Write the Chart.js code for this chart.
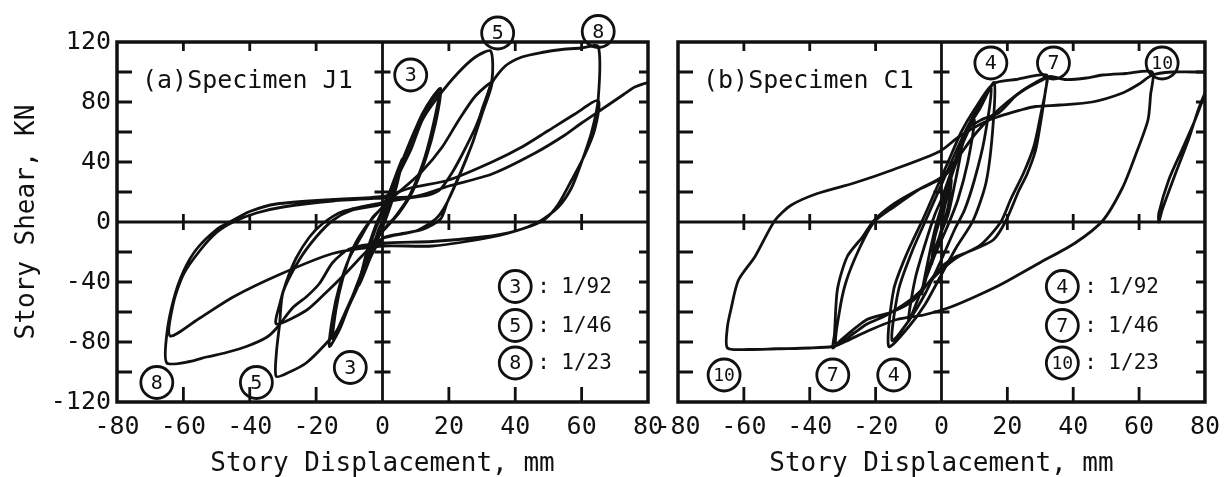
<!DOCTYPE html>
<html>
<head>
<meta charset="utf-8">
<script src="https://cdn.jsdelivr.net/npm/chart.js@4.4.1/dist/chart.umd.min.js"></script>
<style>
  html, body { margin: 0; padding: 0; background: #fff; }
  body { width: 1230px; height: 477px; position: relative; overflow: hidden; }
  .panel { position: absolute; top: 0; height: 477px; }
  #wrapA { left: 0; width: 680px; }
  #wrapB { left: 640px; width: 590px; }
</style>
</head>
<body>
<div class="panel" id="wrapA"><canvas id="chartA"></canvas></div>
<div class="panel" id="wrapB"><canvas id="chartB"></canvas></div>
<script>
// ---- data: [displacement mm, shear kN] ----

// Specimen J1
const j1Small = [[0,0],[2,15],[4,30],[5,36],[3,18],[1,4],[-1,-4],[-3,-18],[-5,-30],[-6,-36],[-4,-18],[-2,-4],[0,6],
  [3,25],[6,42],[4,22],[1,2],[-3,-20],[-7,-42],[-5,-22],[-2,-2],[0,8]];
const j1Cycle3 = [[0,8],[4,30],[8,52],[12,72],[15,83],[17.5,89],[16,66],[13,42],[9,20],[5,6],[1,-4],[-3,-14],[-6,-32],
  [-10,-55],[-13,-72],[-16,-83],[-15,-63],[-13,-43],[-10,-24],[-6,-8],[-3,3],[0,10],[4,28],[9,55],[13,74],[17,86],
  [15,62],[12,38],[8,17],[4,4],[0,-6],[-4,-20],[-8,-44],[-12,-64],[-15,-78],[-14,-58],[-12,-38],[-9,-18],[-5,-3],[0,10]];
const j1Cycle5 = [[0,10],[4,28],[8.5,48],[12,68],[16.6,83],[22.6,99],[28,110],[32.6,114],[33,95],[30,75],[27.5,55],
  [23.5,33],[19.5,13],[17.5,2],[12,-5],[5,-8],[0,-11],[-4,-25],[-8,-46],[-11,-60],[-13,-70],[-17,-81],[-23,-94],
  [-28,-100],[-32,-103],[-32,-88],[-31,-68],[-30,-47],[-25,-25],[-20,-10],[-15,1],[-9,8],[0,12],
  [6,22],[12,34],[18,50],[23,68],[28,84],[33,93],[30,72],[27,52],[23,30],[19,11],[16,2],[10,-6],[0,-11],[-5,-20],
  [-11,-34],[-17,-47],[-23,-59],[-32,-68],[-31,-55],[-29,-40],[-26,-24],[-22,-10],[-18,-1],[-12,7],[0,13]];
const j1Cycle8 = [[0,13],[8,16],[14,18],[17.5,22],[21,33],[24,45],[28,63],[31,80],[33,93],[37,104],[42,110],[48,113],
  [54,115],[60,116],[65,117],[65,82],[63,60],[60,40],[57,23],[53,10],[47,0],[40,-6],[30,-10],[15,-13],[0,-14],
  [-10,-18],[-15,-27],[-19,-41],[-23,-50],[-27,-57],[-32,-71],[-35,-77],[-41,-83],[-47,-87],[-53,-90],[-58,-93],
  [-65,-94],[-65,-75],[-63,-52],[-60,-33],[-56,-18],[-50,-5],[-46,0],[-40,7],[-32,12],[-15,15],[0,17],
  [9,23],[20,28],[33,40],[42,50],[50,61],[58,72],[65,81],[64,62],[61,45],[57,28],[53,12],[49,2],[43,-4],[33,-10],
  [15,-16],[0,-16],[-15,-21],[-31,-35],[-45,-50],[-55,-64],[-64,-76],[-63,-54],[-60,-35],[-55,-19],[-50,-7],
  [-45,0],[-38,6],[-30,10],[-15,14],[0,16],
  [10,17],[20,24],[33,32],[46,46],[55,58],[60,66],[66,75],[72,84],[76,90],[80,93],[84,95]];

// Specimen C1
const c1Small = [[0,0],[2,20],[3,28],[2,10],[0,-5],[-2,-20],[-3,-28],[-2,-10],[0,5],[3,30],[6,48],[4,25],[2,5],
  [-1,-12],[-4,-32],[-6,-48],[-4,-25],[-2,-5],[0,10],[4,38],[7,55],[10,68],[8,40],[5,15],[2,-2],[-2,-22],[-6,-45],
  [-10,-66],[-8,-38],[-5,-15],[-2,5],[0,15]];
const c1Cycle4 = [[0,15],[4,40],[7.5,61],[11.5,75],[16,93],[15.5,60],[13.5,26],[9.6,1],[4.5,-17],[0,-35],[-5,-55],
  [-10,-70],[-16,-83],[-14.5,-45],[-10.5,-21],[-5.4,3],[-2,20],[2,40],[6,60],[10,75],[15,90],[13,55],[10,28],[7,8],
  [4,-5],[0,-25],[-5,-48],[-10,-66],[-15,-79],[-13,-45],[-9,-20],[-4,5],[0,25]];
const c1Cycle7 = [[0,25],[5,50],[10,72],[15.7,92],[22.6,95],[32,98],[31.6,88],[30,65],[28.6,48],[26,32],[23.5,21],
  [19.6,1],[15.7,-12],[8,-20],[4.5,-23],[0,-30],[-8.4,-52],[-15,-60],[-22.6,-65],[-30.7,-79],[-33,-84],[-32.5,-75],
  [-31.6,-45],[-28.6,-23],[-24,-10],[-20.5,1],[-14.5,12],[-7.5,21],[0.6,30],[5.4,44],
  [7.5,61],[12,68],[17.5,73],[23,85],[28.6,93],[32,96],[30,70],[28,50],[25,33],[21,15],[18,0],[12,-15],[4.5,-24],
  [0,-32],[-8.4,-50],[-16.6,-62],[-22.6,-68],[-26.5,-74],[-32,-82],[-31,-60],[-29,-40],[-25,-18],[-20.5,0],
  [-14.5,10],[-6.6,22],[0,30],[5.4,44]];
const c1Cycle10 = [[5.4,44],[10,58],[15,70],[20,80],[25,88],[30,94],[33,97],[37.7,95],[44,96],[48.8,98],[56,99],
  [64,100],[63.5,85],[62.7,68],[59,45],[55,23],[49,1],[40.6,-14],[30,-27],[18.6,-41],[10,-50],[2.4,-57],[-5.4,-62],
  [-13.5,-65],[-21.7,-72],[-29.5,-80],[-33,-83],[-40,-84],[-50,-84.5],[-58.7,-85],[-65,-84],[-65,-70],[-64,-59],
  [-61.7,-39],[-56.6,-23],[-50.6,1],[-45.8,11],[-37.7,19],[-26.5,26],[-14.5,35],[-0.6,47],[5.4,57],[14.5,68],
  [24.6,75],[28.6,77],[36,78],[45.8,80],[55,86],[60,92],[64,98],[70,100],[76,100],[80,100],[86,100]];
const c1Last = [[86,100],[82,93],[80,85],[77,68],[73,48],[69,28],[66,6],[66,0],[67,8],[71,32],[75,55],[78,75],
  [80,86],[82,95]];

// circled cycle numbers: [label, x, y]
const j1Marks = [['3', 8.5, 98], ['5', 34.7, 126], ['8', 65, 127], ['8', -68, -107], ['5', -38, -107], ['3', -9.7, -97]];
const c1Marks = [['4', 15, 106], ['7', 34, 106], ['10', 67, 106], ['10', -66, -102], ['7', -33, -102], ['4', -14.5, -102]];

// legend: cycle, drift ratio
const j1Cycles = ['3', '5', '8'];
const c1Cycles = ['4', '7', '10'];
const driftRatios = ['1/92', '1/46', '1/23'];
const legendY = [-43, -69, -94];

const xTicks = { min: -80, max: 80, step: 20 };
const yTicks = { min: -120, max: 120, step: 20 };

const INK = '#111';
const MONO = 'DejaVu Sans Mono';

function series(arr) {
  return {
    data: arr.map(([x, y]) => ({ x, y })),
    showLine: true, borderColor: INK, borderWidth: 2.8,
    pointRadius: 0, tension: 0.25, fill: false,
  };
}

function circled(ctx, txt, cx, cy) {
  ctx.beginPath();
  ctx.arc(cx, cy, 16, 0, Math.PI * 2);
  ctx.lineWidth = 2.8;
  ctx.stroke();
  ctx.font = `${txt.length > 1 ? 18 : 20}px ${MONO}`;
  ctx.textAlign = 'center';
  ctx.textBaseline = 'middle';
  ctx.fillText(txt, cx, cy + 1);
}

const framePlugin = {
  id: 'frame',
  afterDatasetsDraw(chart, args, opts) {
    const { ctx, chartArea: a, scales: { x, y } } = chart;
    const x0 = x.getPixelForValue(0), y0 = y.getPixelForValue(0);
    ctx.save();
    ctx.strokeStyle = INK;
    ctx.fillStyle = INK;

    ctx.lineWidth = 2.8;
    ctx.beginPath();
    ctx.moveTo(a.left, y0); ctx.lineTo(a.right, y0);
    ctx.moveTo(x0, a.top); ctx.lineTo(x0, a.bottom);
    x.ticks.forEach(t => {
      if (t.value <= x.min || t.value >= x.max) return;
      const p = x.getPixelForValue(t.value);
      ctx.moveTo(p, a.bottom); ctx.lineTo(p, a.bottom - 15);
      ctx.moveTo(p, a.top); ctx.lineTo(p, a.top + 9);
      ctx.moveTo(p, y0 - 8); ctx.lineTo(p, y0 + 8);
    });
    y.ticks.forEach(t => {
      if (t.value <= y.min || t.value >= y.max) return;
      const p = y.getPixelForValue(t.value);
      ctx.moveTo(a.left, p); ctx.lineTo(a.left + 15, p);
      ctx.moveTo(a.right, p); ctx.lineTo(a.right - 9, p);
      ctx.moveTo(x0 - 8, p); ctx.lineTo(x0 + 8, p);
    });
    ctx.stroke();

    ctx.lineWidth = 3.5;
    ctx.strokeRect(a.left, a.top, a.right - a.left, a.bottom - a.top);

    ctx.font = `25px ${MONO}`;
    ctx.textAlign = 'left';
    ctx.textBaseline = 'middle';
    ctx.fillText(opts.label, a.left + 25, a.top + 39);

    opts.marks.forEach(([txt, mx, my]) => circled(ctx, txt, x.getPixelForValue(mx), y.getPixelForValue(my)));

    opts.cycles.forEach((c, i) => {
      const cx = x.getPixelForValue(opts.legendX), cy = y.getPixelForValue(legendY[i]);
      circled(ctx, c, cx, cy);
      ctx.font = `21px ${MONO}`;
      ctx.textAlign = 'left';
      ctx.fillText(':', cx + 22, cy + 1);
      ctx.fillText(driftRatios[i], cx + 46, cy + 1);
    });
    ctx.restore();
  }
};

const tickFont = { family: MONO, size: 25 };
const titleFont = { family: MONO, size: 26, lineHeight: 1 };

function makeChart(id, sets, frameOpts, first) {
  return new Chart(document.getElementById(id), {
    type: 'scatter',
    data: { datasets: sets.map(series) },
    options: {
      responsive: true, maintainAspectRatio: false, animation: false,
      layout: { padding: first ? { top: 42, right: 32, left: 0, bottom: 0 } : { top: 42, right: 20, left: 0, bottom: 0 } },
      plugins: { legend: { display: false }, tooltip: { enabled: false }, frame: frameOpts },
      scales: {
        x: {
          type: 'linear', min: xTicks.min, max: xTicks.max,
          grid: { display: false, drawTicks: false }, border: { display: false },
          ticks: { stepSize: xTicks.step, autoSkip: false, maxRotation: 0, color: INK, font: tickFont, padding: 10 },
          title: { display: true, text: 'Story Displacement, mm', color: INK, font: titleFont, padding: { top: 0, bottom: 0 } },
          afterFit: s => { s.height = 75; },
        },
        y: {
          type: 'linear', min: yTicks.min, max: yTicks.max,
          grid: { display: false, drawTicks: false }, border: { display: false },
          ticks: {
            display: first, stepSize: yTicks.step, autoSkip: false, color: INK, font: tickFont, padding: 6,
            callback: v => (v % 40 === 0 ? String(v) : ''),
          },
          title: { display: first, text: 'Story Shear, KN', color: INK, font: titleFont, padding: { top: 14, bottom: 0 } },
          afterFit: s => { s.width = first ? 117 : 38; },
        },
      },
    },
    plugins: [framePlugin],
  });
}

makeChart('chartA', [j1Small, j1Cycle3, j1Cycle5, j1Cycle8],
  { label: '(a)Specimen J1', marks: j1Marks, cycles: j1Cycles, legendX: 40 }, true);
makeChart('chartB', [c1Small, c1Cycle4, c1Cycle7, c1Cycle10, c1Last],
  { label: '(b)Specimen C1', marks: c1Marks, cycles: c1Cycles, legendX: 36.7 }, false);
</script>
</body>
</html>
